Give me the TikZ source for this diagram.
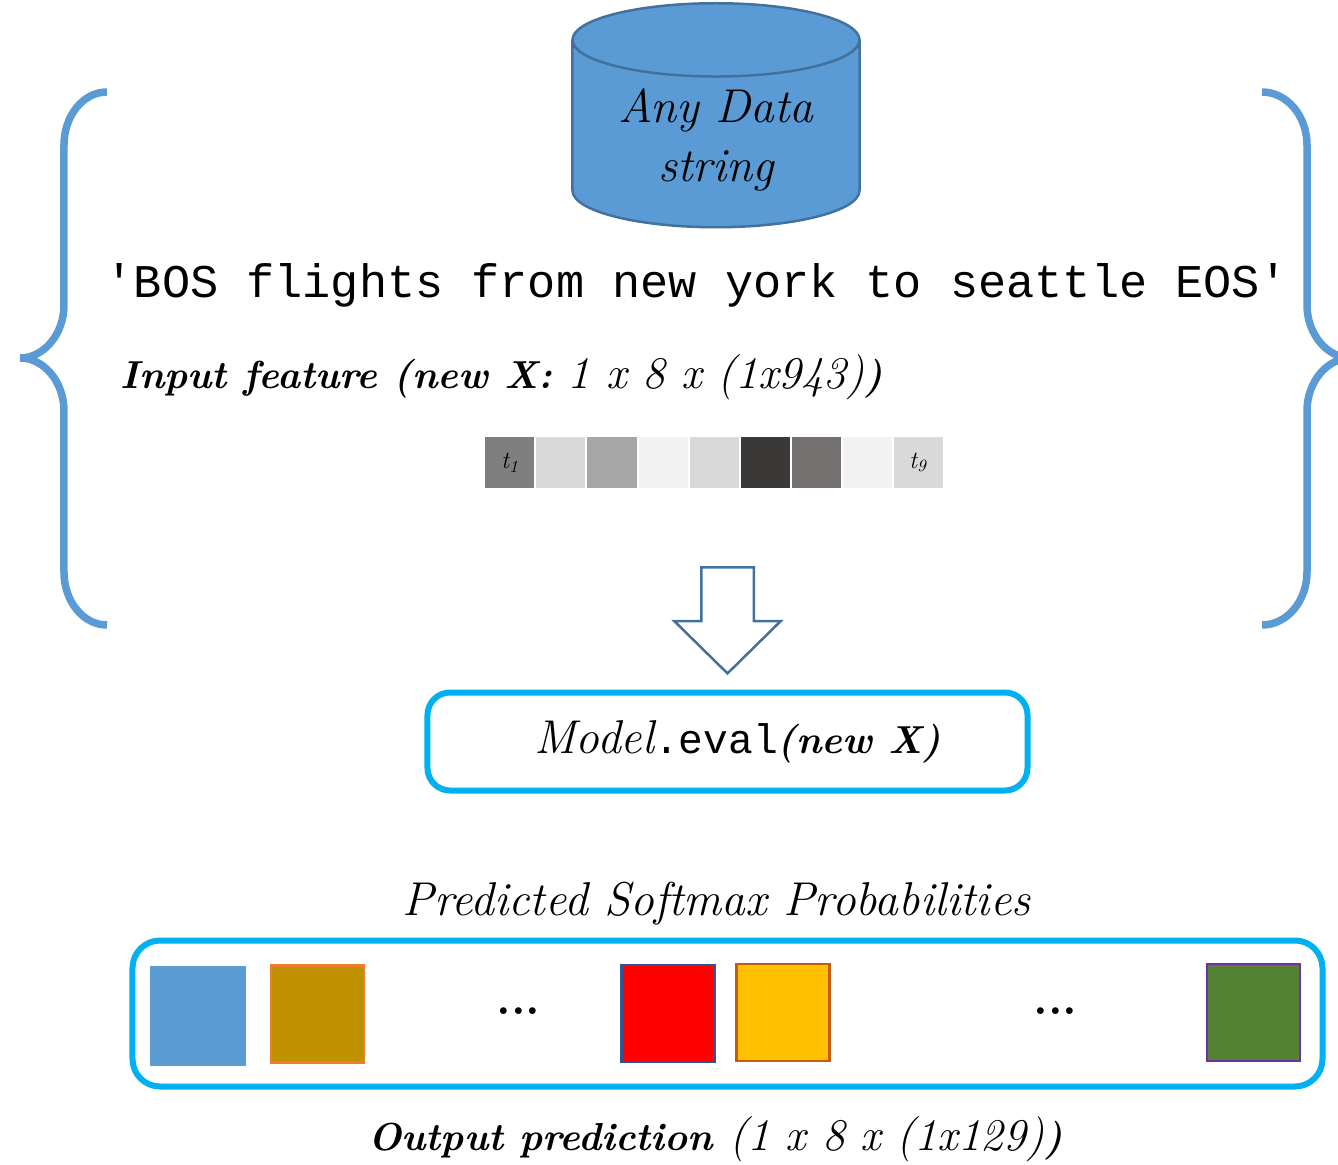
\documentclass[tikz,border=0pt]{standalone}
\usepackage{fontspec}
\setmonofont{Liberation Mono}
\usepackage{tikz}
\usetikzlibrary{shapes.geometric,shapes.arrows}
\definecolor{dbblue}{HTML}{5B9BD5}
\definecolor{dbedge}{HTML}{41719C}
\definecolor{boxblue}{HTML}{00B0F0}
\definecolor{cellA}{HTML}{7F7F7F}
\definecolor{cellB}{HTML}{D9D9D9}
\definecolor{cellC}{HTML}{A6A6A6}
\definecolor{cellD}{HTML}{F2F2F2}
\definecolor{cellE}{HTML}{3B3838}
\definecolor{cellF}{HTML}{767171}
\newcommand{\hand}{\fontsize{27}{34}\selectfont\itshape}
\newcommand{\handm}{\fontsize{25.8}{34}\selectfont\itshape}
\newcommand{\handb}{\fontsize{22.2}{34}\selectfont\bfseries\itshape}
\tikzstyle{database} = [cylinder, shape border rotate=90, shape aspect=0.516, inner sep=1.42cm, minimum width=5.74cm, minimum height=4.48cm, aspect=0.516, draw=dbedge, line width=0.05cm, cylinder uses custom fill, cylinder body fill=dbblue, cylinder end fill=dbblue]
\tikzstyle{brace} = [draw=dbblue, line width=0.15cm]
\tikzstyle{cell} = [rectangle, inner sep=0, minimum width=0.98cm, minimum height=1.02cm, node distance=1.02cm, font=\fontsize{14}{16}\selectfont\itshape]
\tikzstyle{bigarrow} = [single arrow, shape border rotate=270, inner sep=0.5cm, minimum width=2.08cm, minimum height=2.12cm, single arrow head extend=0.54cm, single arrow tip angle=91, draw=dbedge, line width=0.05cm, fill=white]
\tikzstyle{roundbox} = [rectangle, rounded corners=0.45cm, draw=boxblue, line width=0.12cm]
\tikzstyle{sqbox} = [rectangle, inner sep=0, minimum width=1.86cm, minimum height=1.94cm, line width=0.05cm]
\tikzstyle{dotsep} = [inner sep=0, font=\fontsize{26.7}{30}\selectfont\bfseries]
\tikzstyle{txt} = [inner sep=0, font=\handm]

\begin{document}
\begin{tikzpicture}[node distance=2cm]
\useasboundingbox (-14.32,2.4) rectangle (12.44,-20.9);
\node (dbase) [database, yshift=-0.6cm] {};
\node (dbtxt) [below of=dbase, yshift=2.2cm, align=center, inner sep=0, font=\hand] {Any Data\\string};
\node (query) [below of=dbtxt, xshift=-0.38cm, yshift=-0.9cm, inner sep=0, font=\fontsize{26.7}{30}\selectfont\ttfamily] {'BOS flights from new york to seattle EOS'};
\node (feature) [txt, below of=query, xshift=-3.9cm, yshift=0.16cm] {{\handb Input feature (new X:} 1 x 8 x (1x943){\handb )}};

\node (t1) [cell, fill=cellA, node distance=2cm, below of=feature, xshift=0.16cm, yshift=0.29cm] {t\textsubscript{1}};
\node (t2) [cell, fill=cellB, right of=t1] {};
\node (t3) [cell, fill=cellC, right of=t2] {};
\node (t4) [cell, fill=cellD, right of=t3] {};
\node (t5) [cell, fill=cellB, right of=t4] {};
\node (t6) [cell, fill=cellE, right of=t5] {};
\node (t7) [cell, fill=cellF, right of=t6] {};
\node (t8) [cell, fill=cellD, right of=t7] {};
\node (t9) [cell, fill=cellB, right of=t8] {t\textsubscript{9}};

\node (down) [bigarrow, below of=t5, xshift=0.27cm, yshift=-0.9cm] {};
\node (model) [roundbox, minimum width=12cm, minimum height=1.96cm, below of=down, yshift=-0.68cm, font=\hand] {\hspace*{0.4cm}Model{\fontsize{23.5}{34}\selectfont\ttfamily\upshape .eval}{\handb (new X)}};
\node (pred) [txt, font=\hand, below of=model, xshift=-0.22cm, yshift=-1.24cm] {Predicted Softmax Probabilities};
\node (out) [roundbox, rounded corners=0.55cm, minimum width=23.8cm, minimum height=2.92cm, below of=pred, xshift=0.22cm, yshift=-0.2cm] {};
\node (outtxt) [txt, below of=out, xshift=-0.24cm, yshift=-0.52cm] {{\handb Output prediction} (1 x 8 x (1x129){\handb )}};

\node (sq1) [sqbox, fill=dbblue, draw=dbblue, left of=out, xshift=-8.59cm, yshift=-0.05cm] {};
\node (sq2) [sqbox, fill={rgb,255:red,191;green,144;blue,0}, draw={rgb,255:red,237;green,125;blue,49}, right of=sq1, xshift=0.39cm, yshift=0.04cm] {};
\node (dots1) [dotsep, right of=sq2, xshift=2.02cm, yshift=0.05cm] {...};
\node (sq3) [sqbox, fill=red, draw={rgb,255:red,47;green,85;blue,151}, right of=dots1, xshift=0.99cm, yshift=-0.04cm] {};
\node (sq4) [sqbox, fill={rgb,255:red,255;green,192;blue,0}, draw={rgb,255:red,197;green,90;blue,17}, right of=sq3, xshift=0.3cm, yshift=0.02cm] {};
\node (dots2) [dotsep, right of=sq4, xshift=3.45cm, yshift=0.02cm] {...};
\node (sq5) [sqbox, fill={rgb,255:red,84;green,130;blue,53}, draw={rgb,255:red,112;green,48;blue,160}, right of=dots2, xshift=1.96cm, yshift=-0.02cm] {};

\draw [brace] (-12.18,0.56) .. controls (-12.66,0.56) and (-13.04,0.08) .. (-13.04,-0.50) -- (-13.04,-3.70) .. controls (-13.04,-4.28) and (-13.44,-4.76) .. (-13.92,-4.76) .. controls (-13.44,-4.76) and (-13.04,-5.24) .. (-13.04,-5.82) -- (-13.04,-9.04) .. controls (-13.04,-9.62) and (-12.66,-10.10) .. (-12.18,-10.10);
\draw [brace] (10.92,0.56) .. controls (11.42,0.56) and (11.82,0.08) .. (11.82,-0.50) -- (11.82,-3.70) .. controls (11.82,-4.28) and (12.22,-4.76) .. (12.70,-4.76) .. controls (12.22,-4.76) and (11.82,-5.24) .. (11.82,-5.82) -- (11.82,-9.04) .. controls (11.82,-9.62) and (11.42,-10.10) .. (10.92,-10.10);
\end{tikzpicture}
\end{document}
